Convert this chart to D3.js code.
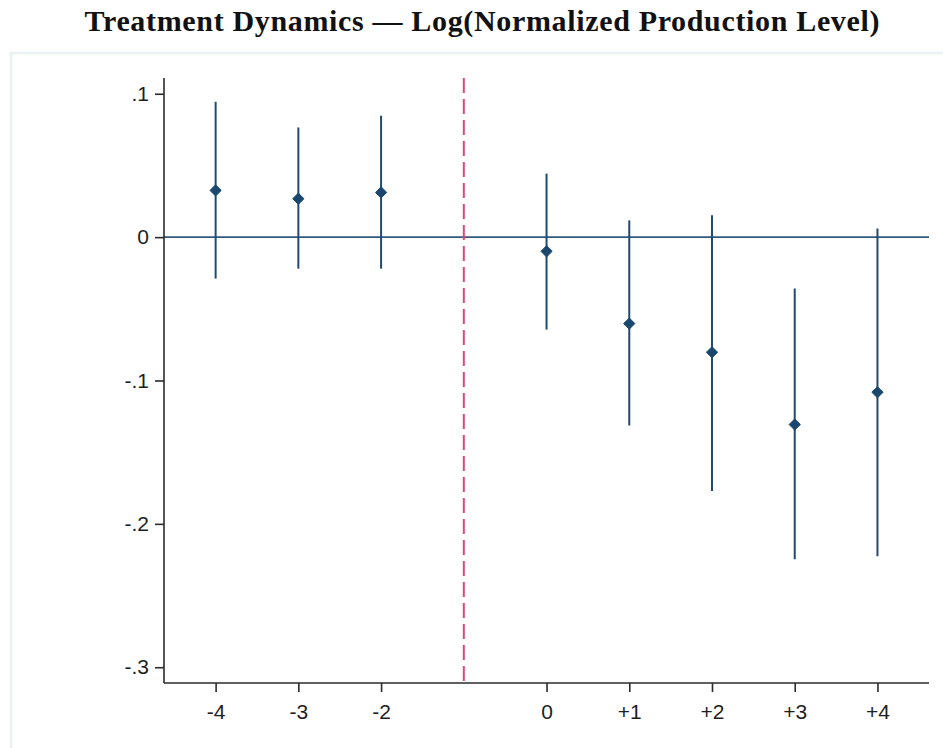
<!DOCTYPE html>
<html>
<head>
<meta charset="utf-8">
<script src="https://cdn.jsdelivr.net/npm/d3@7"></script>
<style>
  body { margin: 0; background: #fff; }
  .axis text { font-family: "Liberation Sans", Arial, sans-serif; font-size: 21px; fill: #1e1e1e; }
  .axis path, .axis line { stroke: #2b2b2b; stroke-width: 1.6; }
</style>
</head>
<body>
<div id="chart"></div>
<script>
// event-time periods relative to treatment
var periods = [-4, -3, -2, 0, 1, 2, 3, 4]
var coef    = [0.0326, 0.0268, 0.0312, -0.0099, -0.0603, -0.0803, -0.1307, -0.1082]
var ciHigh  = [0.0944, 0.0765, 0.0847, 0.0443, 0.0117, 0.0152, -0.0359, 0.0061]
var ciLow   = [-0.0289, -0.0220, -0.0220, -0.0645, -0.1314, -0.1771, -0.2247, -0.2226]

var xTicks = [-4, -3, -2, 0, 1, 2, 3, 4]
var xTickLabels = ["-4", "-3", "-2", "0", "+1", "+2", "+3", "+4"]
var yTicks = [0.1, 0, -0.1, -0.2, -0.3]
var yTickLabels = [".1", "0", "-.1", "-.2", "-.3"]
var treatLine = -1

var width = 943, height = 748

var svg = d3.select("#chart").append("svg")
    .attr("width", width)
    .attr("height", height)

// title
svg.append("text")
    .attr("x", 482)
    .attr("y", 31)
    .attr("text-anchor", "middle")
    .attr("textLength", 795)
    .attr("lengthAdjust", "spacing")
    .style("font-family", "'Liberation Serif', 'Times New Roman', serif")
    .style("font-size", "30px")
    .style("font-weight", "bold")
    .style("fill", "#111")
    .text("Treatment Dynamics \u2014 Log(Normalized Production Level)")

// plot region frame
svg.append("rect")
    .attr("x", 11)
    .attr("y", 53)
    .attr("width", 960)
    .attr("height", 720)
    .attr("fill", "#fff")
    .attr("stroke", "#e9f1f3")
    .attr("stroke-width", 2.5)

var x = d3.scaleLinear().domain([-4.624, 4.623]).range([164, 929])
var y = d3.scaleLinear().domain([0.111, -0.311]).range([78, 683])

// zero line
svg.append("line")
    .attr("x1", x.range()[0]).attr("x2", x.range()[1])
    .attr("y1", y(0)).attr("y2", y(0))
    .attr("stroke", "#35597c")
    .attr("stroke-width", 1.6)

// treatment marker
svg.append("line")
    .attr("x1", x(treatLine)).attr("x2", x(treatLine))
    .attr("y1", y.range()[0]).attr("y2", y.range()[1])
    .attr("stroke", "#dc4a73")
    .attr("stroke-width", 2)
    .attr("stroke-dasharray", "15,6")

var rows = periods.map(function (p, i) {
    return { p: p, b: coef[i], hi: ciHigh[i], lo: ciLow[i] }
})

svg.selectAll(".ci")
    .data(rows)
    .enter().append("line")
    .attr("class", "ci")
    .attr("x1", function (d) { return x(d.p) })
    .attr("x2", function (d) { return x(d.p) })
    .attr("y1", function (d) { return y(d.hi) })
    .attr("y2", function (d) { return y(d.lo) })
    .attr("stroke", "#1f4a72")
    .attr("stroke-width", 2)

svg.selectAll(".pt")
    .data(rows)
    .enter().append("path")
    .attr("class", "pt")
    .attr("d", d3.symbol().type(d3.symbolDiamond2).size(80))
    .attr("transform", function (d) { return "translate(" + x(d.p) + "," + y(d.b) + ")" })
    .attr("fill", "#1a476f")
    .attr("stroke", "#1a476f")
    .attr("stroke-width", 1)
    .attr("stroke-linejoin", "round")

// axes
svg.append("g")
    .attr("class", "axis")
    .attr("transform", "translate(" + x.range()[0] + ",0)")
    .call(d3.axisLeft(y).tickValues(yTicks).tickSize(9).tickPadding(6)
        .tickFormat(function (d, i) { return yTickLabels[i] }))
    .call(function (g) { g.select(".domain").attr("d", "M0," + y.range()[0] + "V" + y.range()[1]) })

svg.append("g")
    .attr("class", "axis")
    .attr("transform", "translate(0," + y.range()[1] + ")")
    .call(d3.axisBottom(x).tickValues(xTicks).tickSize(9).tickPadding(12)
        .tickFormat(function (d, i) { return xTickLabels[i] }))
    .call(function (g) { g.select(".domain").attr("d", "M" + x.range()[0] + ",0H" + x.range()[1]) })
</script>
</body>
</html>
